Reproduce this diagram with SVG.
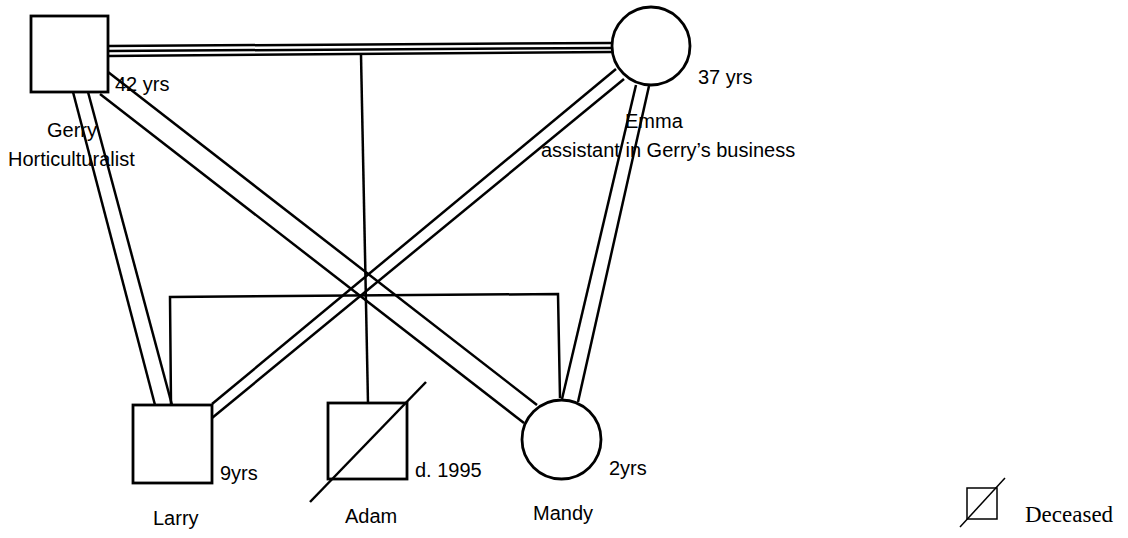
<svg xmlns="http://www.w3.org/2000/svg" width="1128" height="538" viewBox="0 0 1128 538">
<style>
.shape{fill:#fff;stroke:#000;stroke-width:2.8}
.ln{fill:none;stroke:#000;stroke-width:2.5}
.t{font-family:"Liberation Sans",Arial,sans-serif;font-size:20px;fill:#000}
.s{font-family:"Liberation Serif","Times New Roman",serif;font-size:23px;fill:#000}
</style>
<rect width="1128" height="538" fill="#fff"/>
<g id="connectors">
  <line class="ln" x1="108" y1="46" x2="612" y2="43"/>
  <line class="ln" x1="108" y1="51" x2="612" y2="48"/>
  <line class="ln" x1="108" y1="56" x2="612" y2="52"/>
  <line class="ln" x1="361" y1="55" x2="368" y2="403"/>
  <polyline class="ln" points="171,405 170,297 558,294 560,398"/>
  <line class="ln" x1="73" y1="92" x2="155" y2="405"/>
  <line class="ln" x1="88" y1="92" x2="172" y2="405"/>
  <line class="ln" x1="100" y1="94" x2="524" y2="423"/>
  <line class="ln" x1="108" y1="72" x2="537" y2="405"/>
  <line class="ln" x1="616" y1="69" x2="212" y2="404"/>
  <line class="ln" x1="624" y1="79" x2="212" y2="418"/>
  <line class="ln" x1="636" y1="85" x2="562" y2="399"/>
  <line class="ln" x1="649" y1="86" x2="578" y2="402"/>
</g>
<g id="gerry">
  <rect class="shape" x="31" y="16" width="77" height="76"/>
  <text class="t" x="115" y="91">42 yrs</text>
  <text class="t" x="47" y="137">Gerry</text>
  <text class="t" x="8" y="166">Horticulturalist</text>
</g>
<g id="emma">
  <circle class="shape" cx="651" cy="46" r="39"/>
  <text class="t" x="698" y="84">37 yrs</text>
  <text class="t" x="625" y="128">Emma</text>
  <text class="t" x="541" y="157">assistant in Gerry’s business</text>
</g>
<g id="larry">
  <rect class="shape" x="133" y="405" width="79" height="78"/>
  <text class="t" x="220" y="480">9yrs</text>
  <text class="t" x="153" y="525">Larry</text>
</g>
<g id="adam">
  <rect class="shape" x="328" y="403" width="79" height="76"/>
  <line class="ln" x1="310" y1="502" x2="426" y2="382"/>
  <text class="t" x="415" y="477">d. 1995</text>
  <text class="t" x="345" y="523">Adam</text>
</g>
<g id="mandy">
  <circle class="shape" cx="561.5" cy="439.5" r="39.5"/>
  <text class="t" x="609" y="475">2yrs</text>
  <text class="t" x="533" y="520">Mandy</text>
</g>
<g id="legend">
  <rect x="967" y="488" width="30" height="31" fill="none" stroke="#000" stroke-width="1.5"/>
  <line x1="960" y1="527" x2="1005" y2="478" stroke="#000" stroke-width="1.5"/>
  <text class="s" x="1025" y="522">Deceased</text>
</g>
</svg>
